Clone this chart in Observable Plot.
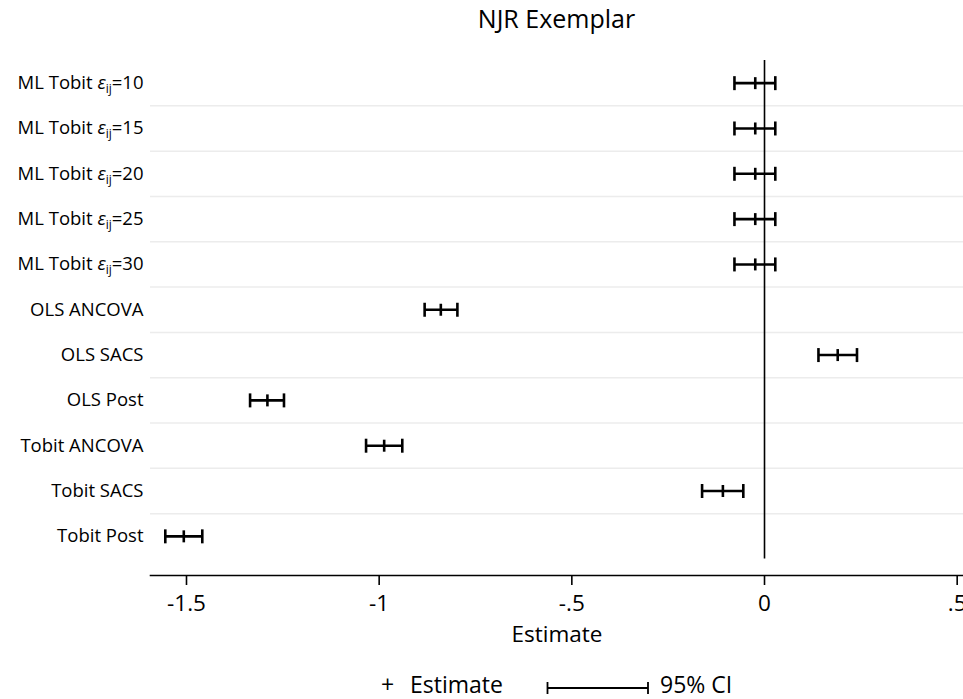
<!DOCTYPE html>
<html>
<head>
<meta charset="utf-8">
<script src="https://cdn.jsdelivr.net/npm/d3@7"></script>
<script src="https://cdn.jsdelivr.net/npm/@observablehq/plot@0.6"></script>
<style>
  html, body { margin: 0; padding: 0; background: #fff; overflow: hidden; }
  #wrap { position: relative; width: 963px; height: 699px; font-family: "Open Sans", sans-serif; color: #000; }
  #chart { position: absolute; left: 0; top: 0; }
  #title { position: absolute; left: 150px; width: 813px; top: 6px; text-align: center; font-size: 25px; line-height: 1; }
  .leg { position: absolute; font-size: 23px; line-height: 1; top: 673px; white-space: nowrap; }
</style>
</head>
<body>
<div id="wrap">
  <div id="chart"></div>
  <div id="title">NJR Exemplar</div>
  <span class="leg" style="left:381px">+</span>
  <span class="leg" style="left:410px">Estimate</span>
  <svg class="leg" style="left:546px;top:681px" width="104" height="14">
    <path d="M1.5,1V13M1.5,7H102M102,1V13" stroke="#000" stroke-width="1.8" fill="none"/>
  </svg>
  <span class="leg" style="left:660px">95% CI</span>
</div>
<script>
const categories = [
  "ML Tobit ε_ij=10", "ML Tobit ε_ij=15", "ML Tobit ε_ij=20", "ML Tobit ε_ij=25", "ML Tobit ε_ij=30",
  "OLS ANCOVA", "OLS SACS", "OLS Post", "Tobit ANCOVA", "Tobit SACS", "Tobit Post"
];
const estimates = [-0.024, -0.024, -0.024, -0.024, -0.024, -0.840, 0.190, -1.290, -0.987, -0.108, -1.507];
const lower     = [-0.078, -0.078, -0.078, -0.078, -0.078, -0.882, 0.140, -1.335, -1.034, -0.162, -1.555];
const upper     = [ 0.028,  0.028,  0.028,  0.028,  0.028, -0.797, 0.240, -1.247, -0.940, -0.055, -1.459];
const xTicks = [-1.5, -1, -0.5, 0, 0.5];
const xTickLabels = ["-1.5", "-1", "-.5", "0", ".5"];

const rows = categories.map((c, i) => ({i, label: c, est: estimates[i], lo: lower[i], hi: upper[i]}));
const gaps = d3.range(1, categories.length).map(i => i - 0.5);

const vbar = {draw(ctx, size) { const r = Math.sqrt(size / Math.PI); ctx.moveTo(0, -r); ctx.lineTo(0, r); }};

const chart = Plot.plot({
  width: 963,
  height: 699,
  marginLeft: 150,
  marginRight: 0,
  marginTop: 60,
  marginBottom: 124,
  style: {fontFamily: "Open Sans", fontSize: "18px", color: "#000", background: "#fff", overflow: "hidden"},
  x: {domain: [-1.5934, 0.5164]},
  y: {domain: [-0.5, 10.5], range: [60, 558.5]},
  marks: [
    Plot.ruleY(gaps, {stroke: "#ececec", strokeWidth: 1.5}),
    Plot.ruleX([0], {y1: -0.5, y2: 10.5, stroke: "#000", strokeWidth: 1.6}),
    Plot.ruleY(rows, {x1: "lo", x2: "hi", y: "i", stroke: "#000", strokeWidth: 2.6}),
    Plot.dot(rows, {x: "lo", y: "i", symbol: vbar, r: 7, stroke: "#000", strokeWidth: 2.6}),
    Plot.dot(rows, {x: "hi", y: "i", symbol: vbar, r: 7, stroke: "#000", strokeWidth: 2.6}),
    Plot.dot(rows, {x: "est", y: "i", symbol: vbar, r: 6, stroke: "#000", strokeWidth: 2.6}),
    Plot.axisY(d3.range(categories.length), {
      tickSize: 0, tickPadding: 7, tickFormat: i => categories[i], label: null, fontSize: 18.5
    }),
    Plot.axisX(xTicks, {
      tickSize: 10, tickPadding: 10, tickFormat: d => xTickLabels[xTicks.indexOf(d)],
      label: "Estimate", labelAnchor: "center", labelArrow: "none", labelOffset: 66,
      fontSize: 22.5, strokeWidth: 1.6
    }),
    Plot.frame({anchor: "bottom", stroke: "#000", strokeWidth: 1.6})
  ]
});
document.getElementById("chart").appendChild(chart);

// typeset epsilon labels with italic ε and subscript ij
d3.select(chart).selectAll('g[aria-label="y-axis tick label"] text').each(function() {
  const t = this.textContent;
  const k = t.indexOf("ε_ij");
  if (k < 0) return;
  const pre = t.slice(0, k), post = t.slice(k + 4);
  const sel = d3.select(this);
  sel.text(null);
  sel.append("tspan").text(pre);
  sel.append("tspan").attr("font-style", "italic").text("ε");
  sel.append("tspan").attr("font-size", 12).attr("dy", 4).text("ij");
  sel.append("tspan").attr("dy", -4).text(post);
});
</script>
</body>
</html>
